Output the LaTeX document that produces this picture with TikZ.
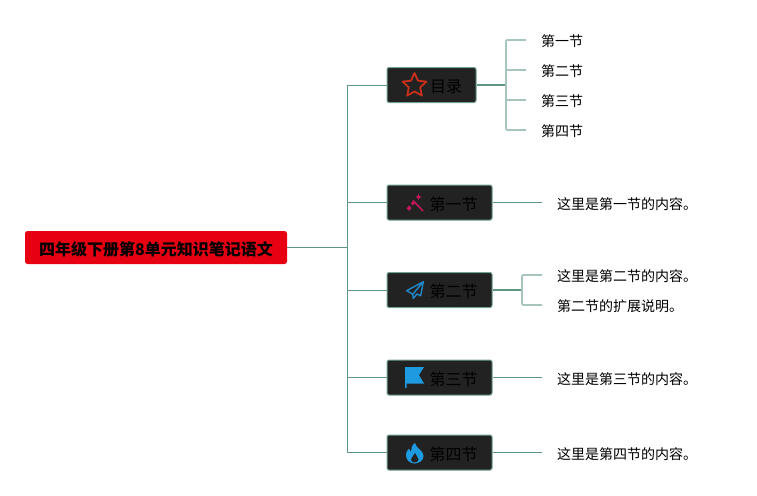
\documentclass[tikz,border=0pt]{standalone}
\usepackage{fontspec}
\setmainfont{Noto Sans CJK SC}
\usetikzlibrary{shapes.geometric}
\definecolor{boxfill}{HTML}{222222}
\definecolor{boxline}{HTML}{6FA194}
\definecolor{lineA}{HTML}{5F9585}
\definecolor{lineB}{HTML}{A6C6BD}
\definecolor{rootred}{HTML}{E60012}
\definecolor{starred}{HTML}{C8301C}
\definecolor{wandred}{HTML}{C2185B}
\definecolor{planeblue}{HTML}{2088C8}
\definecolor{flagblue}{HTML}{1E9BE0}
\tikzset{
    rootbox/.style={fill=rootred, rounded corners=2.5pt, minimum width=262, minimum height=33, inner sep=0, text height=17, text depth=2, font=\fontsize{16}{16}\selectfont\bfseries},
    topic/.style={draw=boxline, line width=1pt, fill=boxfill, rounded corners=2pt, minimum height=35, inner sep=0, text height=17.5, text depth=2, font=\fontsize{16}{16}\selectfont},
    leaf/.style={anchor=west, inner xsep=15, inner ysep=0, text height=15.5, text depth=2, font=\fontsize{14}{14}\selectfont},
    trunk/.style={draw=lineA, line width=1pt},
    stem/.style={draw=lineA, line width=1.6pt},
    twig/.style={draw=lineB, line width=1.6pt, rounded corners=1pt}
}
\begin{document}
\begin{tikzpicture}[x=1pt, y=-1pt]
    \useasboundingbox (0,0) rectangle (757,495);

    \node[rootbox] (r) at (156,247.5) {四年级下册第8单元知识笔记语文};

    \node[topic, minimum width=89] (0) at (431.5,85) {\hspace*{29pt}目录};
    \node[topic, minimum width=105] (1) at (439.5,202.5) {\hspace*{28pt}第一节};
    \node[topic, minimum width=105] (2) at (439.5,290) {\hspace*{28pt}第二节};
    \node[topic, minimum width=105] (3) at (439.5,377.5) {\hspace*{28pt}第三节};
    \node[topic, minimum width=105] (4) at (439.5,452.5) {\hspace*{28pt}第四节};

    \node[leaf] (a) at (526,40) {第一节};
    \node[leaf] (b) at (526,70) {第二节};
    \node[leaf] (c) at (526,100) {第三节};
    \node[leaf] (d) at (526,130) {第四节};

    \node[leaf] (e) at (542,202.5) {这里是第一节的内容。};
    \node[leaf] (f) at (542,275) {这里是第二节的内容。};
    \node[leaf] (g) at (542,305) {第二节的扩展说明。};
    \node[leaf] (h) at (542,377.5) {这里是第三节的内容。};
    \node[leaf] (i) at (542,452.5) {这里是第四节的内容。};

    \coordinate (t) at (347,247.5);
    \coordinate (p) at (506,85);
    \coordinate (q) at (522,290);

    \draw[trunk] (r) -- (t);
    \foreach \i in {0,1,2,3,4}{
        \draw[trunk] (t) |- (\i.west);
    }
    \draw[stem] (0) -- (p);
    \foreach \i in {a,b,c,d}{
        \draw[twig] (p) |- (\i.west);
    }
    \draw[stem] (2) -- (q);
    \foreach \i in {f,g}{
        \draw[twig] (q) |- (\i.west);
    }
    \foreach \i/\j in {1/e,3/h,4/i}{
        \draw[trunk] (\i.east) -- (\j.west);
    }

    % icons
    \node[star, star points=5, star point ratio=2.1, draw=starred, line width=1.8pt, line join=round, minimum size=25, inner sep=0] (s) at (414.5,85.5) {};

    \draw[wandred, line width=1.6pt] (413,200.5) -- (423,211);
    \fill[wandred] (406.5,208.5) -- (409,205.5) -- (411.5,208) -- (409,211) -- cycle;
    \fill[wandred] (411,203) -- (413.5,200.5) -- (415,203) -- (412.5,205.5) -- cycle;
    \fill[wandred] (418.5,194) -- (419.5,196) -- (421.5,197) -- (419.5,198) -- (418.5,200) -- (417.5,198) -- (415.5,197) -- (417.5,196) -- cycle;

    \draw[planeblue, line width=1.4pt, line join=round]
        (423.3,281.7) -- (406.7,290.7) -- (412.7,294.3) -- (413.3,298.3) -- (417,294) -- (420.7,295.7) -- cycle
        (423.3,281.7) -- (412.7,294.3);

    \fill[flagblue] (405,367) -- (424,367) -- (419,375) -- (424,383.5) -- (406.5,383.5) -- (406.5,388) -- (405,388) -- cycle;

    \fill[flagblue] (415,443) .. controls (416,449) and (423.5,450) .. (423.5,456)
        .. controls (423.5,460.5) and (419,463.5) .. (414.5,463.5)
        .. controls (410,463.5) and (406,460) .. (406,455.5)
        .. controls (406,452) and (407.5,450) .. (409,448.5)
        .. controls (409.5,450) and (410,451) .. (411,451.5)
        .. controls (411,448) and (412,445) .. (415,443) -- cycle;
    \fill[boxfill] (415,453) .. controls (416,456) and (418.5,457) .. (418.5,459.5)
        .. controls (418.5,461.5) and (416.5,462.5) .. (414.5,462.5)
        .. controls (412.5,462.5) and (411,461) .. (411,459.5)
        .. controls (411,457) and (414,456) .. (415,453) -- cycle;
\end{tikzpicture}
\end{document}
